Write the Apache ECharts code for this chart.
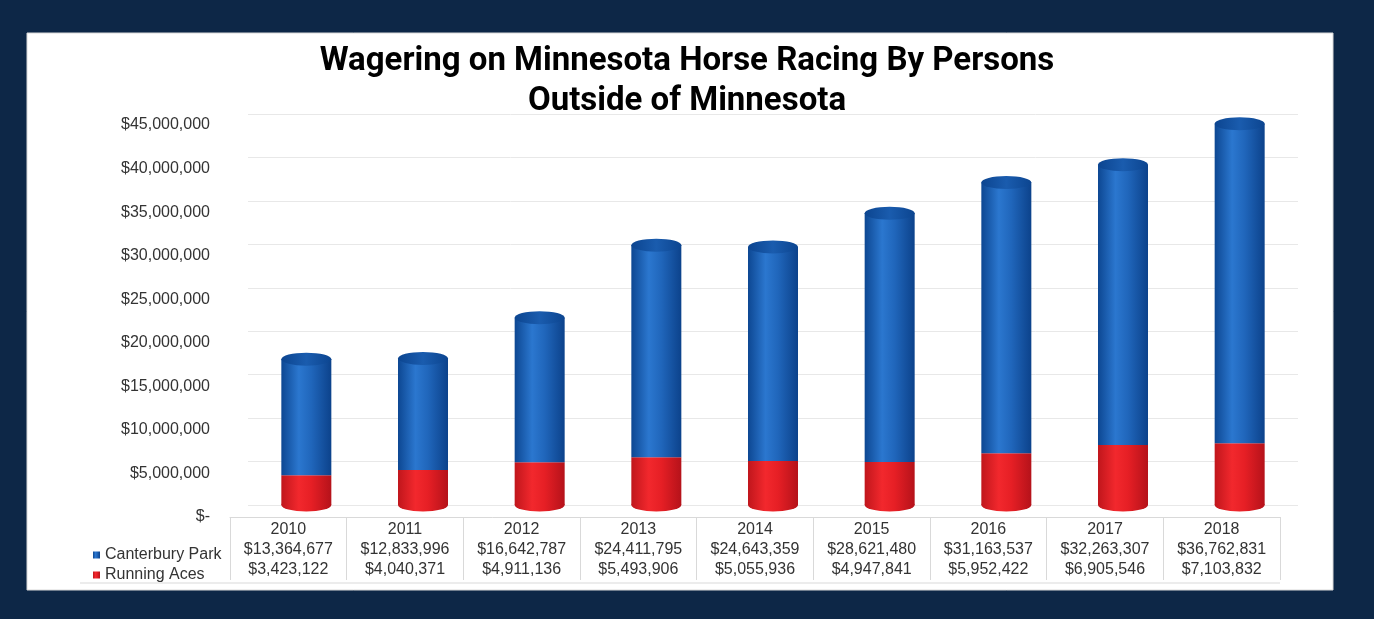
<!DOCTYPE html>
<html>
<head>
<meta charset="utf-8">
<title>Wagering on Minnesota Horse Racing</title>
<script src="https://cdn.jsdelivr.net/npm/echarts@6/dist/echarts.min.js"></script>
<style>
  html, body { margin: 0; padding: 0; background: #0d2747; }
  #chart { width: 1374px; height: 619px; }
</style>
</head>
<body>
<div id="chart"></div>
<script>
// 年份
var years = ["2010", "2011", "2012", "2013", "2014", "2015", "2016", "2017", "2018"];
// Canterbury Park 数据
var canterbury = [13364677, 12833996, 16642787, 24411795, 24643359, 28621480, 31163537, 32263307, 36762831];
// Running Aces 数据
var runningAces = [3423122, 4040371, 4911136, 5493906, 5055936, 4947841, 5952422, 6905546, 7103832];
// y轴刻度
var yMax = 45000000;
var yStep = 5000000;

// 总数（用于顶部椭圆）
var totals = canterbury.map(function (v, i) { return v + runningAces[i]; });

function money(v) {
  if (v === 0) return "$-";
  return "$" + v.toLocaleString("en-US");
}

var chart = echarts.init(document.getElementById("chart"));

// 圆柱颜色
var blueGrad = new echarts.graphic.LinearGradient(0, 0, 1, 0, [
  { offset: 0, color: "#0d4792" },
  { offset: 0.35, color: "#2b77cf" },
  { offset: 0.6, color: "#2066bb" },
  { offset: 1, color: "#0c428b" }
]);
var redGrad = new echarts.graphic.LinearGradient(0, 0, 1, 0, [
  { offset: 0, color: "#c0161c" },
  { offset: 0.35, color: "#f2282d" },
  { offset: 0.6, color: "#e61f25" },
  { offset: 1, color: "#b5121a" }
]);
var capGrad = new echarts.graphic.LinearGradient(0, 0, 1, 0, [
  { offset: 0, color: "#0c4590" },
  { offset: 0.5, color: "#1a5cae" },
  { offset: 1, color: "#0c4590" }
]);

var option = {
  backgroundColor: "#0d2747",
  animation: false,
  title: {
    text: "Wagering on Minnesota Horse Racing By Persons\nOutside of Minnesota",
    left: "center",
    top: 37,
    textStyle: {
      fontFamily: "Roboto",
      fontWeight: "bold",
      fontSize: 33,
      lineHeight: 40,
      color: "#000"
    }
  },
  graphic: [
    {
      type: "rect",
      z: -10,
      shape: { x: 27, y: 33, width: 1306, height: 557 },
      style: { fill: "#ffffff", stroke: "#d8d8d8" }
    },
    {
      type: "line",
      z: -5,
      shape: { x1: 80, y1: 583, x2: 1280, y2: 583 },
      style: { stroke: "#d9d9d9", lineWidth: 1 }
    }
  ],
  legend: {
    data: ["Canterbury Park", "Running Aces"],
    orient: "vertical",
    left: 88,
    top: 540,
    itemGap: 0,
    itemWidth: 7,
    itemHeight: 7,
    icon: "rect",
    textStyle: {
      fontFamily: "Liberation Sans",
      fontSize: 16,
      lineHeight: 20,
      color: "#333"
    }
  },
  grid: [
    // 数据表和y轴标签
    { left: 230, right: 94, top: 125, bottom: 102 },
    // 圆柱
    { left: 248, right: 76, top: 114, bottom: 114 }
  ],
  xAxis: [
    {
      gridIndex: 0,
      type: "category",
      data: years,
      axisLine: { lineStyle: { color: "#d9d9d9" } },
      axisTick: { show: true, length: 63, lineStyle: { color: "#d9d9d9" } },
      axisLabel: {
        margin: 3,
        interval: 0,
        formatter: function (value, idx) {
          return "{y|" + value + "}\n{v|" + money(canterbury[idx]) + "}\n{v|" + money(runningAces[idx]) + "}";
        },
        rich: {
          y: { fontFamily: "Liberation Sans", fontSize: 16, lineHeight: 20, color: "#333" },
          v: { fontFamily: "Liberation Sans", fontSize: 16, lineHeight: 20, color: "#333" }
        }
      }
    },
    {
      gridIndex: 1,
      type: "category",
      data: years,
      show: false
    }
  ],
  yAxis: [
    {
      gridIndex: 0,
      type: "value",
      min: 0,
      max: yMax,
      interval: yStep,
      axisLine: { show: false },
      axisTick: { show: false },
      splitLine: { show: false },
      axisLabel: {
        margin: 20,
        fontFamily: "Liberation Sans",
        fontSize: 16,
        color: "#333",
        formatter: money
      }
    },
    {
      gridIndex: 1,
      type: "value",
      min: 0,
      max: yMax,
      interval: yStep,
      axisLine: { show: false },
      axisTick: { show: false },
      axisLabel: { show: false },
      splitLine: { lineStyle: { color: "#e8e8e8" } }
    }
  ],
  series: [
    {
      name: "Running Aces",
      type: "bar",
      xAxisIndex: 1,
      yAxisIndex: 1,
      stack: "total",
      barWidth: 50,
      data: runningAces,
      itemStyle: { color: redGrad }
    },
    {
      name: "Canterbury Park",
      type: "bar",
      xAxisIndex: 1,
      yAxisIndex: 1,
      stack: "total",
      barWidth: 50,
      data: canterbury,
      itemStyle: { color: blueGrad }
    },
    // 底部椭圆
    {
      name: "base",
      type: "pictorialBar",
      xAxisIndex: 1,
      yAxisIndex: 1,
      symbol: "circle",
      symbolSize: [50, 13],
      symbolPosition: "start",
      symbolOffset: [0, "50%"],
      barGap: "-100%",
      z: 1,
      data: runningAces,
      itemStyle: { color: redGrad }
    },
    // 顶部椭圆
    {
      name: "cap",
      type: "pictorialBar",
      xAxisIndex: 1,
      yAxisIndex: 1,
      symbol: "circle",
      symbolSize: [50, 13],
      symbolPosition: "end",
      symbolOffset: [0, "-50%"],
      barGap: "-100%",
      z: 3,
      data: totals,
      itemStyle: { color: capGrad }
    }
  ]
};

chart.setOption(option);
</script>
</body>
</html>
